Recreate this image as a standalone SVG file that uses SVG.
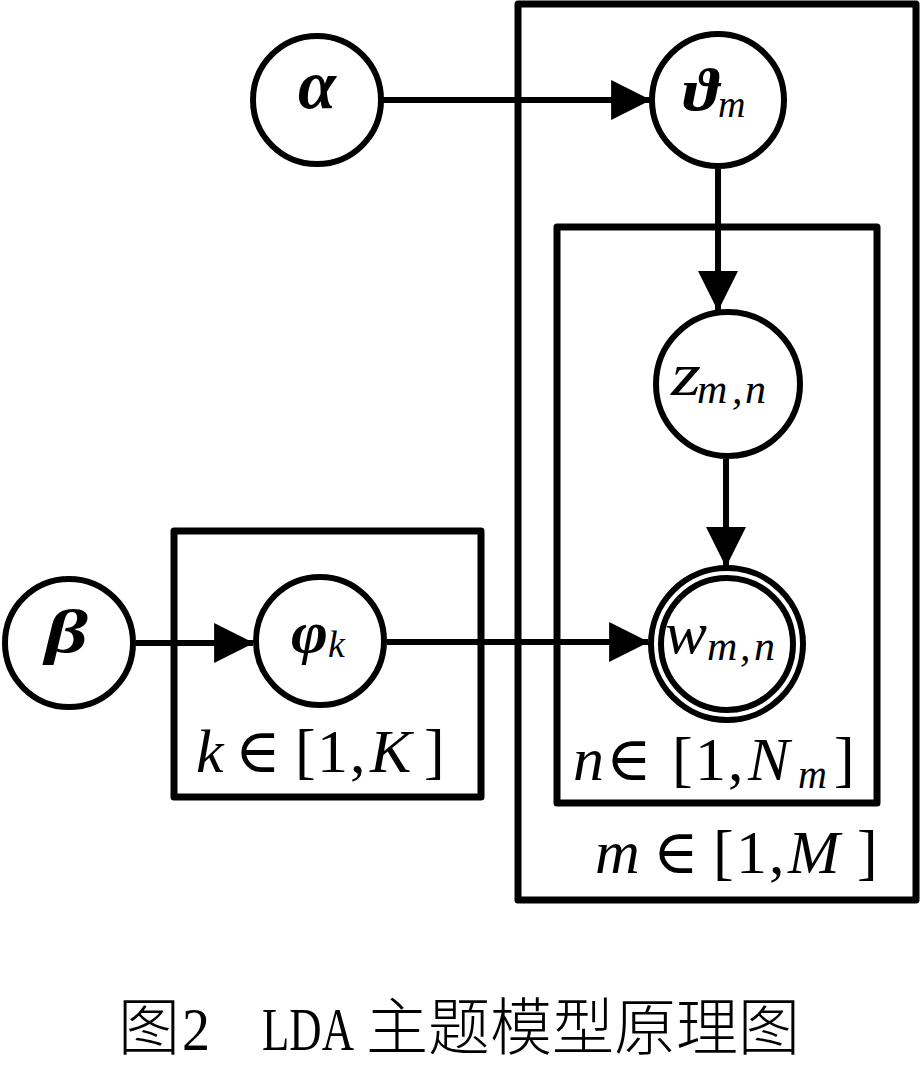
<svg xmlns="http://www.w3.org/2000/svg" width="920" height="1070" viewBox="0 0 920 1070">
<style>
.node{fill:#fff;stroke:#000;stroke-width:6}
.plate{fill:none;stroke:#000;stroke-width:7;stroke-linejoin:round}
.edge{stroke:#000;stroke-width:6;fill:none}
.t{font-family:"Liberation Serif","Times New Roman","DejaVu Serif",serif;fill:#000}
.g{font-weight:bold;font-style:italic}
.i{font-style:italic}
.cap{font-size:62px;fill:#000}
.cj{font-family:"Noto Sans CJK SC",sans-serif;font-weight:300}
.lt{font-family:"Liberation Serif",serif}
</style>
<defs>
<marker id="arr" markerUnits="userSpaceOnUse" markerWidth="40" markerHeight="40" viewBox="0 0 36 36" refX="35" refY="18" orient="auto">
<path d="M0,0 L36,18 L0,36 Z" fill="#000"/>
</marker>
</defs>
<rect width="920" height="1070" fill="#fff"/>
<g id="plate-m"><rect class="plate" x="518" y="4" width="398" height="896"/>
<text class="t" y="873" font-size="62"><tspan class="i" x="595">m</tspan><tspan x="653">∈</tspan><tspan x="713">[</tspan><tspan x="736">1</tspan><tspan x="769">,</tspan><tspan class="i" x="788">M</tspan><tspan x="857">]</tspan></text></g>
<g id="plate-n"><rect class="plate" x="557" y="227" width="320" height="576"/>
<text class="t" y="780" font-size="62"><tspan class="i" x="573">n</tspan><tspan x="606">∈</tspan><tspan x="672">[</tspan><tspan x="695">1</tspan><tspan x="728">,</tspan><tspan class="i" x="748">N</tspan><tspan class="i" x="798" font-size="40" dy="8">m</tspan><tspan x="834" dy="-8">]</tspan></text></g>
<g id="plate-k"><rect class="plate" x="174" y="531" width="307" height="266"/>
<text class="t" y="772" font-size="62"><tspan class="i" x="196">k</tspan><tspan x="235">∈</tspan><tspan x="295">[</tspan><tspan x="317">1</tspan><tspan x="350">,</tspan><tspan class="i" x="370">K</tspan><tspan x="424">]</tspan></text></g>
<g id="connectors">
<line class="edge" x1="381" y1="100" x2="650" y2="100" marker-end="url(#arr)"/>
<line class="edge" x1="718" y1="169" x2="718" y2="310" marker-end="url(#arr)"/>
<line class="edge" x1="726" y1="459" x2="726" y2="566" marker-end="url(#arr)"/>
<line class="edge" x1="136" y1="643" x2="253" y2="643" marker-end="url(#arr)"/>
<line class="edge" x1="387" y1="642" x2="648" y2="642" marker-end="url(#arr)"/>
</g>
<g id="alpha"><circle class="node" cx="317" cy="100" r="64"/>
<text class="t g" x="298" y="108" font-size="70" textLength="38" lengthAdjust="spacingAndGlyphs">α</text></g>
<g id="theta"><circle class="node" cx="718" cy="100" r="66"/>
<text class="t g" x="683" y="110" font-size="60" textLength="36" lengthAdjust="spacingAndGlyphs">ϑ</text>
<text class="t i" x="718" y="117" font-size="38">m</text></g>
<g id="z"><circle class="node" cx="728" cy="384" r="72"/>
<text class="t i" x="671" y="395" font-size="62" textLength="30" lengthAdjust="spacingAndGlyphs">z</text>
<text class="t i" y="403" font-size="42"><tspan x="697">m</tspan><tspan x="732">,</tspan><tspan x="745">n</tspan></text></g>
<g id="w"><circle class="node" cx="727" cy="644" r="76"/>
<circle class="node" cx="727" cy="644" r="66" stroke-width="5"/>
<text class="t i" x="665" y="653" font-size="60" textLength="42" lengthAdjust="spacingAndGlyphs">w</text>
<text class="t i" y="660" font-size="42"><tspan x="707">m</tspan><tspan x="740">,</tspan><tspan x="754">n</tspan></text></g>
<g id="beta"><circle class="node" cx="69" cy="643" r="64"/>
<text class="t g" x="45" y="652" font-size="62" textLength="43" lengthAdjust="spacingAndGlyphs">β</text></g>
<g id="phi"><circle class="node" cx="320" cy="641" r="64"/>
<text class="t g" x="291" y="652" font-size="60" textLength="37" lengthAdjust="spacingAndGlyphs">φ</text>
<text class="t i" x="328" y="657" font-size="38">k</text></g>
<text class="cap" y="1050"><tspan class="cj" x="118">图</tspan><tspan class="lt" x="182" textLength="28" lengthAdjust="spacingAndGlyphs">2</tspan><tspan class="lt" x="262" textLength="92" lengthAdjust="spacingAndGlyphs">LDA</tspan><tspan class="cj" x="366">主题模型原理图</tspan></text>
</svg>
